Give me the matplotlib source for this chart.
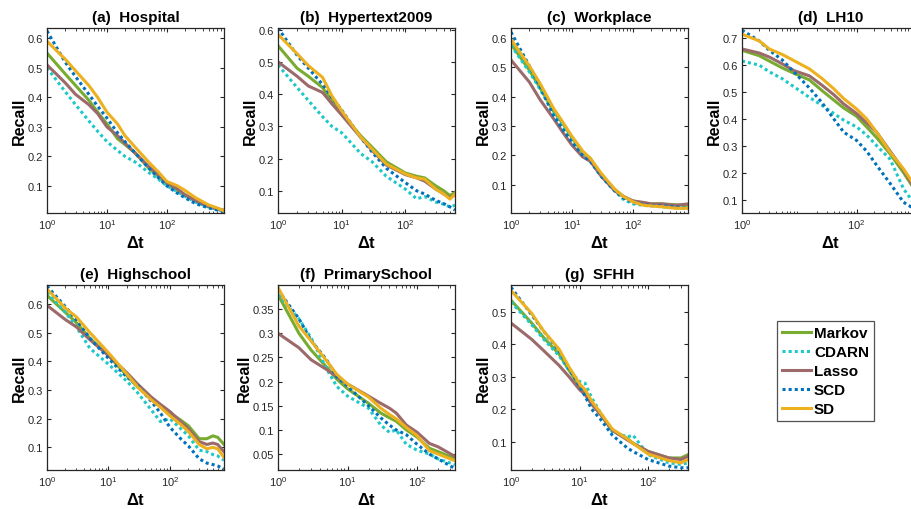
import numpy as np
import matplotlib
matplotlib.use('Agg')
import matplotlib.pyplot as plt
from matplotlib.ticker import FuncFormatter, LogLocator, NullFormatter

plt.rcParams['font.family'] = ['Liberation Sans', 'DejaVu Sans']
plt.rcParams['mathtext.fontset'] = 'custom'
plt.rcParams['mathtext.rm'] = 'Liberation Sans'
plt.rcParams['mathtext.it'] = 'Liberation Sans:italic'
plt.rcParams['mathtext.bf'] = 'Liberation Sans:bold'

methods = ['Markov', 'CDARN', 'Lasso', 'SCD', 'SD']
colors = ['#77AC30', '#1EC8C8', '#9C6A6A', '#0072BD', '#EDB120']
dotted = [False, True, False, True, False]

# (a) Hospital
x_a = [1, 2, 3, 5, 7, 10, 15, 20, 30, 50, 70, 100, 150, 200, 300, 500, 700, 900]
markov_a = [0.55, 0.48, 0.44, 0.39, 0.35, 0.31, 0.26, 0.24, 0.21, 0.16, 0.135, 0.105, 0.085, 0.07, 0.05, 0.03, 0.022, 0.018]
cdarn_a = [0.50, 0.42, 0.375, 0.32, 0.285, 0.25, 0.22, 0.20, 0.18, 0.145, 0.125, 0.10, 0.08, 0.065, 0.045, 0.028, 0.02, 0.014]
lasso_a = [0.51, 0.45, 0.41, 0.375, 0.345, 0.30, 0.27, 0.245, 0.21, 0.165, 0.14, 0.11, 0.09, 0.07, 0.05, 0.03, 0.022, 0.015]
scd_a = [0.625, 0.52, 0.47, 0.41, 0.37, 0.33, 0.28, 0.25, 0.21, 0.16, 0.13, 0.10, 0.075, 0.06, 0.04, 0.025, 0.018, 0.012]
sd_a = [0.59, 0.53, 0.49, 0.44, 0.40, 0.35, 0.31, 0.27, 0.23, 0.18, 0.15, 0.115, 0.10, 0.085, 0.06, 0.035, 0.025, 0.015]

# (b) Hypertext2009
x_b = [1, 2, 3, 5, 7, 10, 20, 30, 50, 100, 150, 200, 300, 400, 500, 600]
markov_b = [0.55, 0.48, 0.455, 0.42, 0.38, 0.34, 0.27, 0.235, 0.19, 0.155, 0.145, 0.14, 0.115, 0.10, 0.085, 0.095]
cdarn_b = [0.49, 0.42, 0.38, 0.33, 0.30, 0.28, 0.215, 0.19, 0.145, 0.105, 0.075, 0.082, 0.065, 0.058, 0.05, 0.055]
lasso_b = [0.50, 0.455, 0.425, 0.405, 0.37, 0.335, 0.265, 0.225, 0.18, 0.15, 0.14, 0.13, 0.105, 0.09, 0.078, 0.088]
scd_b = [0.605, 0.52, 0.48, 0.43, 0.39, 0.35, 0.265, 0.22, 0.17, 0.125, 0.10, 0.09, 0.07, 0.06, 0.05, 0.04]
sd_b = [0.585, 0.525, 0.488, 0.452, 0.395, 0.348, 0.266, 0.229, 0.183, 0.152, 0.14, 0.136, 0.105, 0.09, 0.074, 0.09]

# (c) Workplace
x_c = [1, 2, 3, 5, 7, 10, 15, 20, 30, 50, 70, 100, 150, 200, 300, 500, 800]
markov_c = [0.58, 0.49, 0.43, 0.35, 0.31, 0.26, 0.21, 0.19, 0.135, 0.085, 0.06, 0.045, 0.038, 0.035, 0.035, 0.032, 0.03]
cdarn_c = [0.575, 0.485, 0.425, 0.345, 0.30, 0.255, 0.205, 0.185, 0.13, 0.08, 0.05, 0.035, 0.03, 0.028, 0.025, 0.022, 0.02]
lasso_c = [0.525, 0.45, 0.39, 0.325, 0.28, 0.235, 0.195, 0.18, 0.13, 0.08, 0.06, 0.045, 0.04, 0.035, 0.035, 0.03, 0.035]
scd_c = [0.62, 0.505, 0.435, 0.335, 0.29, 0.245, 0.20, 0.18, 0.13, 0.08, 0.055, 0.04, 0.033, 0.03, 0.028, 0.025, 0.02]
sd_c = [0.595, 0.505, 0.445, 0.36, 0.315, 0.265, 0.215, 0.19, 0.14, 0.085, 0.06, 0.042, 0.03, 0.028, 0.025, 0.02, 0.02]

# (d) LH10
x_d = [1, 2, 3, 5, 8, 15, 25, 40, 60, 100, 150, 225, 385, 660, 940, 1230]
markov_d = [0.655, 0.635, 0.615, 0.59, 0.57, 0.545, 0.505, 0.47, 0.44, 0.41, 0.37, 0.33, 0.27, 0.20, 0.15, 0.115]
cdarn_d = [0.615, 0.60, 0.575, 0.55, 0.52, 0.48, 0.45, 0.42, 0.395, 0.37, 0.34, 0.30, 0.25, 0.14, 0.095, 0.07]
lasso_d = [0.66, 0.645, 0.63, 0.605, 0.58, 0.56, 0.525, 0.49, 0.455, 0.42, 0.385, 0.35, 0.28, 0.21, 0.155, 0.12]
scd_d = [0.73, 0.69, 0.655, 0.62, 0.575, 0.515, 0.46, 0.40, 0.35, 0.32, 0.28, 0.227, 0.16, 0.09, 0.07, 0.055]
sd_d = [0.715, 0.69, 0.66, 0.64, 0.617, 0.586, 0.55, 0.512, 0.475, 0.437, 0.40, 0.35, 0.276, 0.214, 0.165, 0.13]

# (e) Highschool
x_e = [1, 2, 3, 5, 10, 20, 30, 50, 70, 100, 150, 200, 300, 400, 500, 600, 760]
markov_e = [0.63, 0.57, 0.535, 0.48, 0.42, 0.35, 0.31, 0.27, 0.245, 0.22, 0.195, 0.175, 0.13, 0.13, 0.14, 0.135, 0.11]
cdarn_e = [0.64, 0.57, 0.52, 0.445, 0.39, 0.33, 0.29, 0.23, 0.19, 0.20, 0.165, 0.14, 0.09, 0.085, 0.075, 0.07, 0.055]
lasso_e = [0.595, 0.545, 0.52, 0.475, 0.42, 0.36, 0.32, 0.275, 0.25, 0.225, 0.19, 0.165, 0.12, 0.11, 0.115, 0.11, 0.085]
scd_e = [0.662, 0.59, 0.545, 0.48, 0.41, 0.345, 0.315, 0.26, 0.22, 0.17, 0.13, 0.105, 0.06, 0.045, 0.04, 0.035, 0.025]
sd_e = [0.652, 0.585, 0.555, 0.50, 0.43, 0.355, 0.31, 0.265, 0.24, 0.21, 0.18, 0.155, 0.11, 0.095, 0.10, 0.095, 0.065]

# (f) PrimarySchool
x_f = [1, 2, 3, 5, 7, 10, 20, 30, 40, 50, 70, 100, 150, 200, 350]
markov_f = [0.38, 0.30, 0.265, 0.23, 0.205, 0.185, 0.155, 0.135, 0.125, 0.118, 0.10, 0.085, 0.062, 0.055, 0.04]
cdarn_f = [0.38, 0.33, 0.29, 0.226, 0.19, 0.17, 0.145, 0.11, 0.095, 0.10, 0.07, 0.058, 0.05, 0.04, 0.028]
lasso_f = [0.30, 0.27, 0.245, 0.225, 0.21, 0.195, 0.17, 0.155, 0.145, 0.135, 0.11, 0.095, 0.072, 0.065, 0.045]
scd_f = [0.39, 0.33, 0.285, 0.245, 0.21, 0.19, 0.15, 0.125, 0.11, 0.10, 0.09, 0.07, 0.05, 0.04, 0.02]
sd_f = [0.395, 0.315, 0.284, 0.243, 0.215, 0.195, 0.168, 0.145, 0.132, 0.123, 0.105, 0.088, 0.057, 0.05, 0.036]

# (g) SFHH
x_g = [1, 2, 3, 5, 7, 10, 12, 15, 20, 30, 50, 60, 100, 200, 300, 380]
markov_g = [0.535, 0.465, 0.42, 0.37, 0.32, 0.27, 0.25, 0.22, 0.185, 0.135, 0.11, 0.095, 0.07, 0.05, 0.05, 0.06]
cdarn_g = [0.53, 0.46, 0.415, 0.365, 0.32, 0.285, 0.28, 0.235, 0.19, 0.13, 0.115, 0.12, 0.06, 0.035, 0.03, 0.035]
lasso_g = [0.465, 0.415, 0.38, 0.335, 0.30, 0.26, 0.245, 0.215, 0.185, 0.135, 0.105, 0.095, 0.07, 0.05, 0.045, 0.055]
scd_g = [0.575, 0.49, 0.44, 0.38, 0.325, 0.27, 0.24, 0.20, 0.17, 0.12, 0.08, 0.07, 0.045, 0.025, 0.02, 0.02]
sd_g = [0.565, 0.495, 0.44, 0.385, 0.33, 0.278, 0.26, 0.225, 0.19, 0.139, 0.108, 0.095, 0.062, 0.042, 0.035, 0.045]

titles = ['(a)  Hospital', '(b)  Hypertext2009', '(c)  Workplace', '(d)  LH10',
          '(e)  Highschool', '(f)  PrimarySchool', '(g)  SFHH']
xmax = [900, 600, 800, 1230, 760, 350, 380]
ylims = [(0.008, 0.635), (0.031, 0.605), (0.004, 0.634), (0.05, 0.738),
         (0.021, 0.666), (0.017, 0.40), (0.013, 0.582)]
yticks = [[0.1, 0.2, 0.3, 0.4, 0.5, 0.6]] * 3 + [[0.1, 0.2, 0.3, 0.4, 0.5, 0.6, 0.7]] + \
         [[0.1, 0.2, 0.3, 0.4, 0.5, 0.6], [0.05, 0.1, 0.15, 0.2, 0.25, 0.3, 0.35],
          [0.1, 0.2, 0.3, 0.4, 0.5]]
xticks = [[1, 10, 100]] * 3 + [[1, 100]] + [[1, 10, 100]] * 3

panels = [
    (x_a, [markov_a, cdarn_a, lasso_a, scd_a, sd_a]),
    (x_b, [markov_b, cdarn_b, lasso_b, scd_b, sd_b]),
    (x_c, [markov_c, cdarn_c, lasso_c, scd_c, sd_c]),
    (x_d, [markov_d, cdarn_d, lasso_d, scd_d, sd_d]),
    (x_e, [markov_e, cdarn_e, lasso_e, scd_e, sd_e]),
    (x_f, [markov_f, cdarn_f, lasso_f, scd_f, sd_f]),
    (x_g, [markov_g, cdarn_g, lasso_g, scd_g, sd_g]),
]

W, H = 912, 510
fig = plt.figure(figsize=(W / 100, H / 100), dpi=100)

lefts = [47, 278, 511, 742, 47, 278, 511]
tops = [29, 29, 29, 29, 286, 286, 286]
aw, ah = 177, 185

edge = '#262626'
handles = []
for i, (xs, series) in enumerate(panels):
    ax = fig.add_axes([lefts[i] / W, (H - tops[i] - ah) / H, aw / W, ah / H])
    for k, ys in enumerate(series):
        if dotted[k]:
            ln, = ax.plot(xs, ys, color=colors[k], lw=2.2, dashes=(1, 1),
                          dash_capstyle='butt', label=methods[k])
        else:
            ln, = ax.plot(xs, ys, color=colors[k], lw=2.2, label=methods[k])
        if i == 0:
            handles.append(ln)
    ax.set_xscale('log')
    ax.set_xlim(1, xmax[i])
    ax.set_ylim(*ylims[i])
    ax.set_xticks(xticks[i])
    ax.xaxis.set_minor_locator(LogLocator(base=10, subs=np.arange(2, 10), numticks=20))
    ax.xaxis.set_minor_formatter(NullFormatter())
    ax.set_yticks(yticks[i])
    ax.yaxis.set_major_formatter(FuncFormatter(lambda v, p: '%g' % v))
    ax.tick_params(which='both', direction='in', top=True, right=True,
                   labelsize=8, colors=edge, labelcolor='#262626')
    ax.tick_params(which='major', length=3, width=0.8, pad=3)
    ax.tick_params(which='minor', length=1.8, width=0.6)
    for s in ax.spines.values():
        s.set_color(edge)
        s.set_linewidth(0.9)
    ax.set_title(titles[i], fontsize=11, fontweight='bold', pad=5)
    ax.set_ylabel('Recall', fontsize=11.5, fontweight='bold', labelpad=0.5)
    ax.set_xlabel(r'$\mathbf{\Delta t}$', fontsize=12, labelpad=2)

leg = fig.legend(handles=handles, loc='center', bbox_to_anchor=(825.5 / W, 1 - 372 / H),
                 fontsize=11, frameon=True, fancybox=False, handlelength=1.9,
                 handletextpad=0.2, borderpad=0.35, labelspacing=0.33, borderaxespad=0)
for t in leg.get_texts():
    t.set_fontweight('bold')
leg.get_frame().set_edgecolor(edge)
leg.get_frame().set_linewidth(0.9)

fig.savefig('out.png', dpi=100)
